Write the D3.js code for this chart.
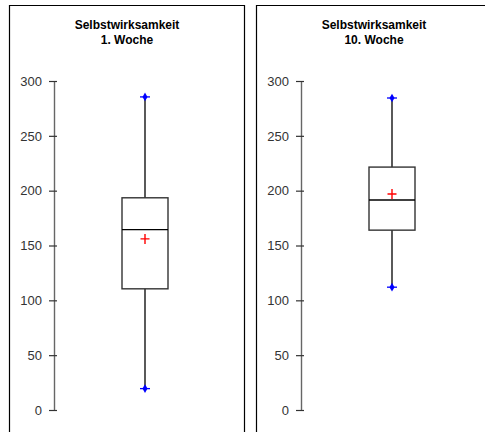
<!DOCTYPE html>
<html>
<head>
<meta charset="utf-8">
<script src="https://cdn.jsdelivr.net/npm/d3@7"></script>
<style>
    body { margin: 0; background: #fff; }
    svg { display: block; }
    .tick text { font-family: Arial, "Liberation Sans", sans-serif; font-size: 13px; fill: #333; }
    .title { font-family: Arial, "Liberation Sans", sans-serif; font-size: 12px; font-weight: bold; fill: #000; }
</style>
</head>
<body>
<svg id="chart" width="485" height="432"></svg>
<script>
"use strict";

// box plot values
let titleLine1 = ["Selbstwirksamkeit", "Selbstwirksamkeit"];
let titleLine2 = ["1. Woche", "10. Woche"];
let minValues = [19.5, 112];
let q1Values = [110.5, 164];
let medianValues = [164.5, 191.5];
let q3Values = [193.5, 221.5];
let maxValues = [285.5, 284.5];
let meanValues = [156, 197];
let yTicks = [0, 50, 100, 150, 200, 250, 300];

let svg = d3.select("#chart");

let panelLeft = [9, 256];
let panelRight = [245, 495];

let y = d3.scaleLinear()
    .domain([0, 300])
    .range([410, 81]);

let panels = svg.selectAll(".panel")
    .data(d3.range(titleLine1.length))
    .enter().append("g")
    .attr("class", "panel")
    .attr("transform", i => "translate(" + panelLeft[i] + ",0)");

panels.each(function(i) {
    let g = d3.select(this);
    let w = panelRight[i] - panelLeft[i];
    let axisX = 45;
    let cx = 136;
    let boxW = 46;

    // panel frame (bottom runs off the picture)
    g.append("path")
        .attr("d", "M0.5,442V5.5H" + (w - 0.5) + "V442")
        .style("fill", "none")
        .style("stroke", "#000")
        .style("stroke-width", 1.2);

    g.append("text")
        .attr("class", "title")
        .attr("x", cx - 18)
        .attr("y", 29)
        .attr("text-anchor", "middle")
        .text(titleLine1[i]);

    g.append("text")
        .attr("class", "title")
        .attr("x", cx - 18)
        .attr("y", 44)
        .attr("text-anchor", "middle")
        .text(titleLine2[i]);

    let axis = g.append("g")
        .attr("transform", "translate(" + axisX + ",0)")
        .call(d3.axisLeft(y)
            .tickValues(yTicks)
            .tickSize(5)
            .tickSizeOuter(0)
            .tickPadding(7));

    axis.select(".domain")
        .style("stroke", "#666")
        .style("stroke-width", 1.4);

    // ticks cross the axis line a little
    axis.selectAll(".tick line")
        .attr("x2", -5)
        .attr("x1", 3)
        .style("stroke", "#333")
        .style("stroke-width", 1.2);

    // whisker
    g.append("line")
        .attr("x1", cx).attr("x2", cx)
        .attr("y1", y(minValues[i])).attr("y2", y(maxValues[i]))
        .style("stroke", "#000")
        .style("stroke-width", 1.3);

    // box
    g.append("rect")
        .attr("x", cx - boxW / 2)
        .attr("y", y(q3Values[i]))
        .attr("width", boxW)
        .attr("height", y(q1Values[i]) - y(q3Values[i]))
        .style("fill", "#fff")
        .style("stroke", "#333")
        .style("stroke-width", 1.4);

    g.append("line")
        .attr("x1", cx - boxW / 2).attr("x2", cx + boxW / 2)
        .attr("y1", y(medianValues[i])).attr("y2", y(medianValues[i]))
        .style("stroke", "#000")
        .style("stroke-width", 1.3);

    // mean marker
    let my = y(meanValues[i]);
    g.append("path")
        .attr("d", "M" + (cx - 4.5) + "," + my + "H" + (cx + 4.5) + "M" + cx + "," + (my - 5) + "V" + (my + 5))
        .style("stroke", "#f00")
        .style("stroke-width", 1.4);

    // min / max markers
    [minValues[i], maxValues[i]].forEach(function(v) {
        let py = y(v);
        g.append("path")
            .attr("d", "M" + (cx - 5) + "," + py + "H" + (cx + 5))
            .style("stroke", "#00f")
            .style("stroke-width", 1.3);
        g.append("path")
            .attr("d", d3.symbol().type(d3.symbolDiamond).size(22)())
            .attr("transform", "translate(" + cx + "," + py + ")")
            .style("fill", "#00f");
    });
});
</script>
</body>
</html>
